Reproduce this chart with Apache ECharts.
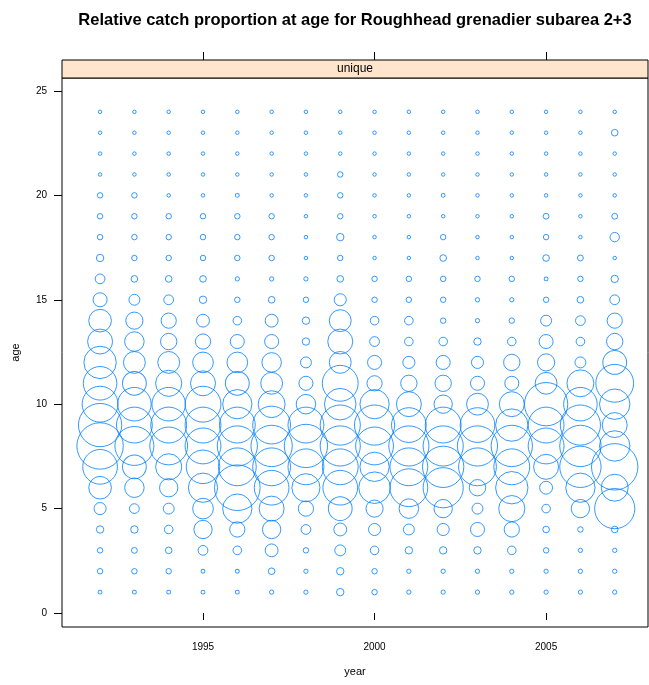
<!DOCTYPE html>
<html><head><meta charset="utf-8">
<script src="https://cdn.jsdelivr.net/npm/echarts@6/dist/echarts.min.js"></script>
<style>html,body{margin:0;padding:0;background:#fff}#c{width:649px;height:685px}</style>
</head><body><div id="c"></div>
<script>
// Relative catch proportion (%) at age 1..24, per year
const years = [1992,1993,1994,1995,1996,1997,1998,1999,2000,2001,2002,2003,2004,2005,2006,2007];
const ages = [1,2,3,4,5,6,7,8,9,10,11,12,13,14,15,16,17,18,19,20,21,22,23,24];
const p1992 = [1.0,1.4,1.4,1.9,3.1,5.8,8.9,11.9,11.1,9.2,8.6,8.3,6.4,5.8,3.6,2.5,1.9,1.4,1.4,1.4,0.9,0.9,0.9,0.9];
const p1993 = [1.0,1.4,1.5,1.9,2.5,5.0,6.1,10.0,9.2,8.6,6.1,5.6,5.0,4.4,2.8,1.7,1.4,1.4,1.4,1.4,0.9,0.9,0.9,0.9];
const p1994 = [1.0,1.4,1.7,2.2,2.8,4.7,6.7,9.7,9.2,8.6,6.7,5.6,4.2,3.9,2.5,1.7,1.4,1.4,1.4,0.9,0.9,0.9,0.9,0.9];
const p1995 = [1.0,1.0,2.5,4.7,5.3,7.5,8.6,9.2,9.2,9.2,6.4,5.3,3.9,3.3,1.9,1.7,1.4,1.4,1.4,0.9,0.9,0.9,0.9,0.9];
const p1996 = [1.0,1.0,2.2,3.9,7.5,11.7,9.7,10.3,9.2,7.5,6.1,5.3,3.6,2.2,1.4,1.1,1.4,1.4,1.4,1.0,0.9,0.9,0.9,0.9];
const p1997 = [1.1,1.7,3.3,4.7,6.4,8.9,9.7,10.6,9.7,6.9,5.6,5.0,3.6,3.3,1.7,1.1,1.4,1.4,1.4,0.9,0.9,0.9,0.9,0.9];
const p1998 = [1.1,1.1,1.4,2.5,3.9,7.2,9.2,11.1,9.2,5.0,3.6,2.8,1.9,1.9,1.4,1.1,0.9,0.9,0.9,0.9,0.9,0.9,0.9,0.9];
const p1999 = [1.9,1.9,2.8,3.3,6.1,8.9,9.2,10.3,10.3,8.1,9.2,5.6,6.4,5.6,3.1,1.7,1.4,1.9,1.4,1.4,1.4,0.9,0.9,0.9];
const p2000 = [1.4,1.4,2.2,3.1,4.4,8.1,7.5,9.7,10.3,7.5,3.9,3.6,2.5,2.2,1.4,1.4,0.9,0.9,0.9,0.9,0.9,0.9,0.9,0.9];
const p2001 = [1.1,1.1,1.9,2.8,5.0,9.7,9.7,10.3,8.9,6.4,4.2,3.1,2.2,2.2,1.4,1.4,0.9,0.9,0.9,0.9,0.9,0.9,0.9,0.9];
const p2002 = [1.1,1.1,1.9,3.1,4.7,10.3,10.6,10.3,9.2,4.7,4.2,3.6,2.2,1.4,1.4,1.4,1.7,1.4,0.9,1.0,0.9,0.9,0.9,0.9];
const p2003 = [1.1,1.1,1.9,3.6,2.8,4.2,9.7,10.3,8.9,5.6,3.6,3.1,1.9,1.1,1.1,1.4,0.9,0.9,0.9,0.9,0.9,0.9,0.9,0.9];
const p2004 = [1.1,1.1,2.2,3.9,6.7,8.3,9.2,10.6,8.3,6.4,3.6,4.2,2.2,1.4,1.1,1.4,0.9,0.9,0.9,0.9,0.9,0.9,0.9,0.9];
const p2005 = [1.1,1.1,1.4,1.7,2.2,3.3,6.4,9.2,9.2,11.1,5.6,4.4,3.6,2.8,1.4,1.0,1.7,1.4,1.5,0.9,0.9,0.9,0.9,0.9];
const p2006 = [1.1,1.1,1.1,1.4,4.7,7.5,10.6,10.6,10.3,8.6,6.9,2.8,2.2,2.5,1.7,1.4,1.5,0.9,0.9,0.9,0.9,0.9,0.9,0.9];
const p2007 = [1.1,1.1,1.1,1.7,10.3,6.9,11.9,7.8,6.4,7.8,9.7,6.1,4.2,3.9,2.5,1.9,0.9,2.4,1.5,0.9,0.9,0.9,1.7,0.9];
const yearTicks = [1995, 2000, 2005];
const ageTicks = [0, 5, 10, 15, 20, 25];
const titleText = 'Relative catch proportion at age for Roughhead grenadier subarea 2+3';
const stripText = 'unique';

const byYear = [p1992,p1993,p1994,p1995,p1996,p1997,p1998,p1999,p2000,p2001,p2002,p2003,p2004,p2005,p2006,p2007];
const data = [];
years.forEach((y, i) => ages.forEach((a, j) => data.push([y, a, byYear[i][j]])));

const FONT = 'Liberation Sans, Arial, sans-serif';
const L = 62, R = 648, T = 78, B = 627;
const chart = echarts.init(document.getElementById('c'), null, {renderer: 'canvas'});
chart.setOption({
  animation: false,
  backgroundColor: '#ffffff',
  grid: {left: L, right: 649 - R, top: T, bottom: 685 - B, show: true, borderColor: '#000', borderWidth: 1, backgroundColor: 'transparent'},
  xAxis: [{
    type: 'value', min: 1990.89, max: 2007.97, position: 'bottom',
    axisLine: {show: false}, splitLine: {show: false},
    axisTick: {show: true, inside: false, length: 7, customValues: yearTicks, lineStyle: {color: '#000'}},
    axisLabel: {show: true, customValues: yearTicks, formatter: v => String(Math.round(v)), margin: 15, color: '#000', fontSize: 10, fontFamily: FONT}
  }, {
    type: 'value', min: 1990.89, max: 2007.97, position: 'top', offset: 18,
    axisLine: {show: false}, splitLine: {show: false},
    axisTick: {show: true, inside: false, length: 8, customValues: yearTicks, lineStyle: {color: '#000'}},
    axisLabel: {show: false}
  }],
  yAxis: {
    type: 'value', min: -0.67, max: 25.62,
    axisLine: {show: false}, splitLine: {show: false},
    axisTick: {show: true, inside: false, length: 8, customValues: ageTicks, lineStyle: {color: '#000'}},
    axisLabel: {show: true, customValues: ageTicks, formatter: v => String(Math.round(v)), margin: 15, color: '#000', fontSize: 10, fontFamily: FONT}
  },
  series: [{
    type: 'scatter', xAxisIndex: 0, yAxisIndex: 0,
    data: data,
    symbol: 'circle',
    symbolSize: d => d[2] * 3.9,
    itemStyle: {color: 'rgba(0,0,0,0)', borderColor: '#0080ff', borderWidth: 1},
    emphasis: {disabled: true}, silent: true
  }],
  graphic: [
    {type: 'rect', shape: {x: L, y: T - 18, width: R - L, height: 18}, style: {fill: '#ffe5cc', stroke: '#000', lineWidth: 1}, z: 10},
    {type: 'text', x: (L + R) / 2, y: T - 9, style: {text: stripText, font: '12px ' + FONT, fill: '#000', textAlign: 'center', textVerticalAlign: 'middle'}, z: 11},
    {type: 'text', x: (L + R) / 2, y: 20, style: {text: titleText, font: 'bold 16.5px ' + FONT, fill: '#000', textAlign: 'center', textVerticalAlign: 'middle'}},
    {type: 'text', x: (L + R) / 2, y: 672, style: {text: 'year', font: '11px ' + FONT, fill: '#000', textAlign: 'center', textVerticalAlign: 'middle'}},
    {type: 'text', x: 16, y: (T + B) / 2, rotation: Math.PI / 2, style: {text: 'age', font: '11px ' + FONT, fill: '#000', textAlign: 'center', textVerticalAlign: 'middle'}}
  ]
});
</script>
</body></html>
